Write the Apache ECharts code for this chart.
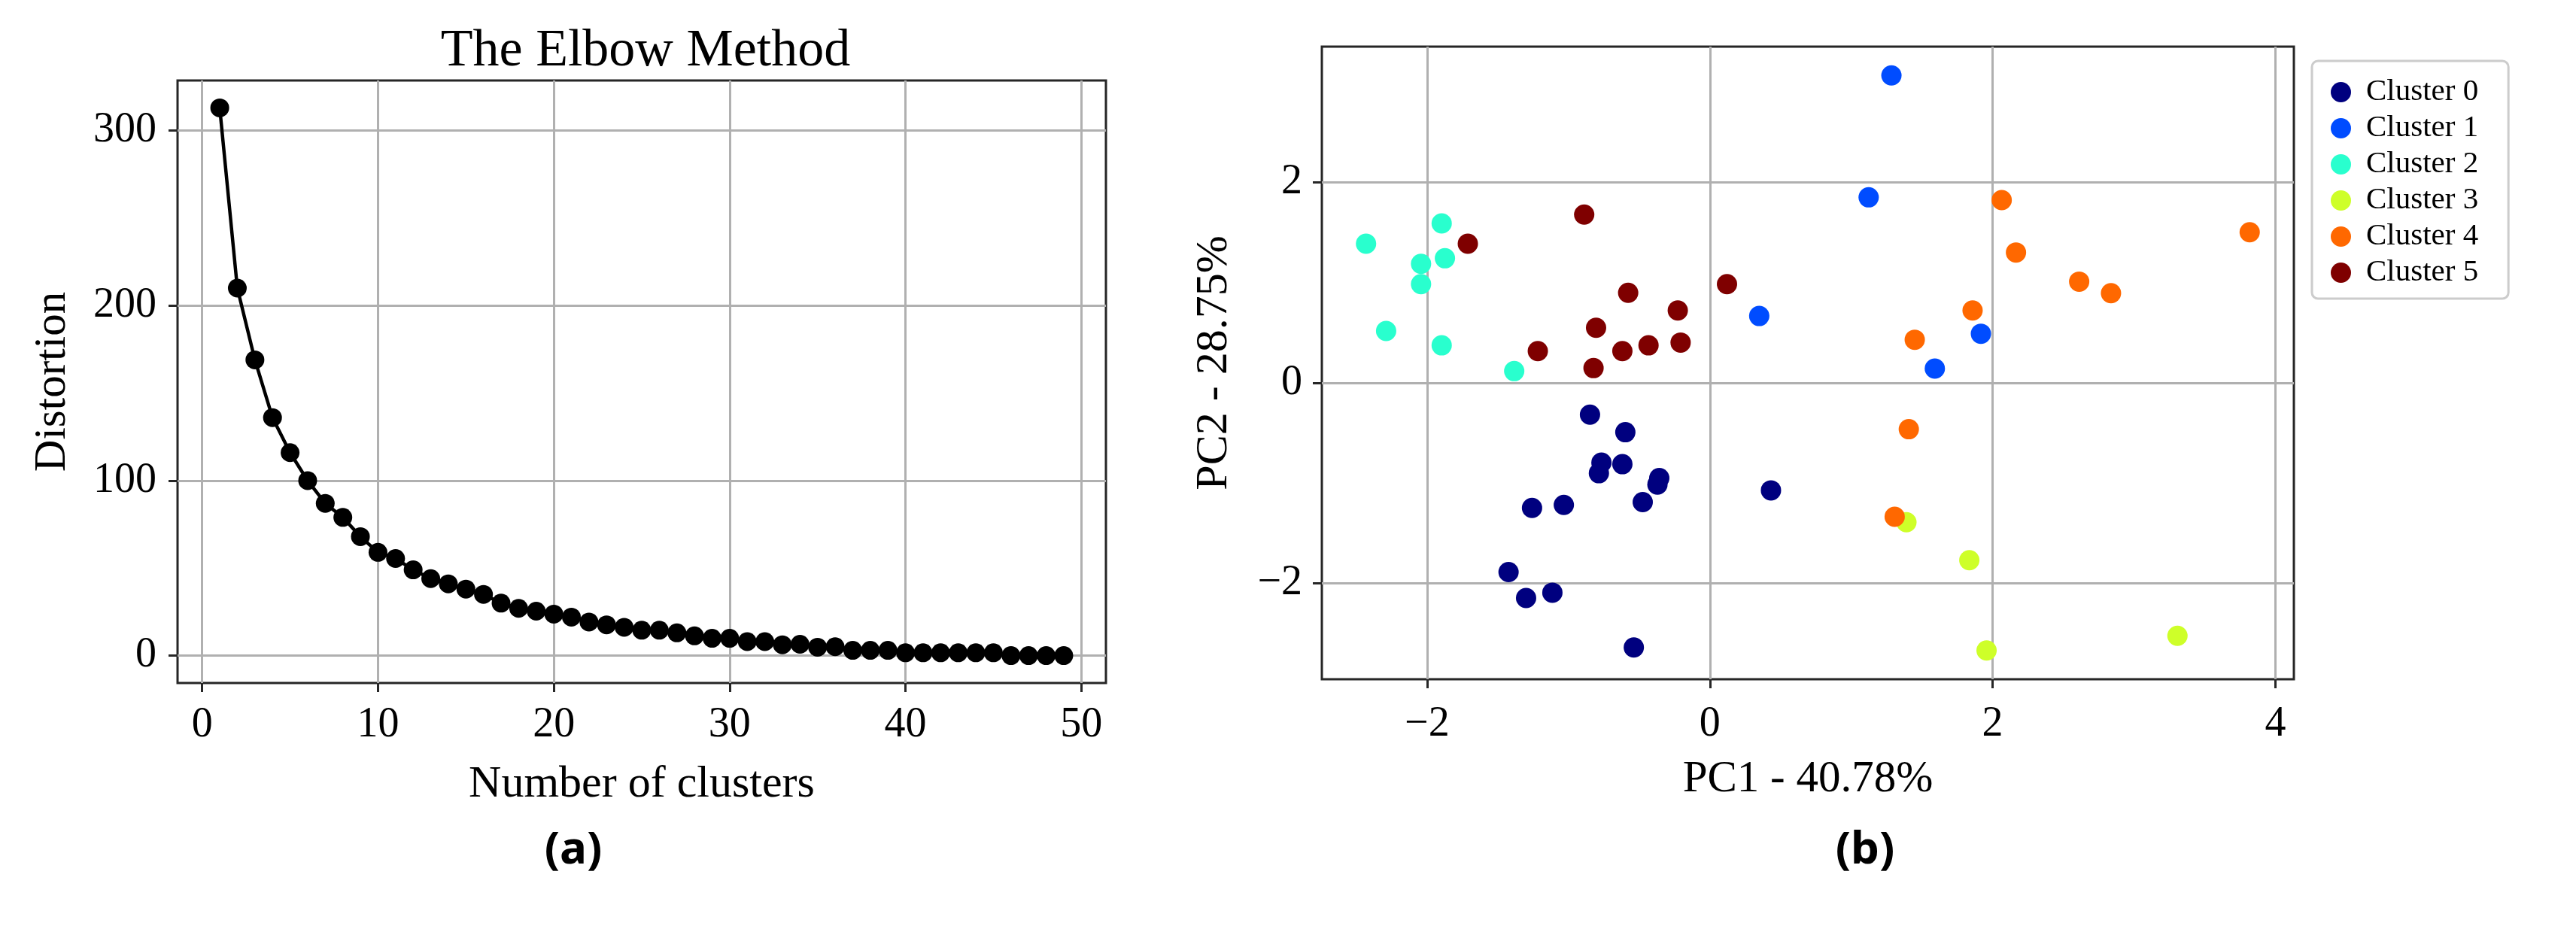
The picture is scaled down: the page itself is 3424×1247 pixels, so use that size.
<!DOCTYPE html>
<html>
<head>
<meta charset="utf-8">
<script src="https://cdn.jsdelivr.net/npm/echarts@6/dist/echarts.min.js"></script>
<style>
html,body{margin:0;padding:0;background:#fff;}
#c{width:3424px;height:1247px;}
</style>
</head>
<body>
<div id="c"></div>
<script>
// ---- Panel (a): elbow curve ----
const elbowK = [1,2,3,4,5,6,7,8,9,10,11,12,13,14,15,16,17,18,19,20,21,22,23,24,25,26,27,28,29,30,31,32,33,34,35,36,37,38,39,40,41,42,43,44,45,46,47,48,49];
const elbowDistortion = [313,210,169,136,116,100,87,79,68,59,55.5,49,44,41,38,35,30,27,25.4,23.7,22,19.2,17.6,16.2,14.5,14.5,13,11.3,9.9,9.9,8,8,6.2,6.5,4.8,5.1,3,3,3,1.6,1.6,1.6,1.6,1.6,1.6,0,0,0,0];
const elbowXTicks = [0,10,20,30,40,50];
const elbowYTicks = [0,100,200,300];

// ---- Panel (b): PCA scatter by cluster ----
const clusterNames = ['Cluster 0','Cluster 1','Cluster 2','Cluster 3','Cluster 4','Cluster 5'];
const clusterColors = ['#00007f','#004cff','#29ffce','#ceff29','#ff6800','#7f0000'];
const cluster0 = [[-0.848,-0.316],[-0.598,-0.492],[-0.767,-0.795],[-0.619,-0.811],[-0.785,-0.901],[-0.358,-0.949],[-0.371,-1.014],[-0.475,-1.189],[0.432,-1.072],[-1.258,-1.247],[-1.033,-1.217],[-1.424,-1.887],[-1.300,-2.146],[-1.114,-2.093],[-0.538,-2.640]];
const cluster1 = [[1.284,3.069],[1.123,1.852],[0.349,0.668],[1.917,0.491],[1.591,0.143]];
const cluster2 = [[-2.432,1.389],[-1.897,1.592],[-2.043,1.189],[-1.874,1.244],[-2.043,0.986],[-2.290,0.518],[-1.897,0.375],[-1.384,0.118]];
const cluster3 = [[1.390,-1.390],[1.835,-1.769],[1.957,-2.670],[3.307,-2.524]];
const cluster4 = [[2.064,1.825],[3.818,1.504],[2.165,1.302],[2.612,1.011],[2.837,0.896],[1.858,0.723],[1.449,0.431],[1.407,-0.462],[1.307,-1.335]];
const cluster5 = [[-0.889,1.680],[-1.712,1.389],[-0.578,0.899],[0.121,0.986],[-0.227,0.723],[-0.805,0.551],[-1.217,0.318],[-0.619,0.318],[-0.434,0.375],[-0.207,0.403],[-0.823,0.148]];
const clusters = [cluster0,cluster1,cluster2,cluster3,cluster4,cluster5];
const pcaXTicks = [-2,0,2,4];
const pcaYTicks = [-2,0,2];

const SERIF = '"Liberation Serif","Times New Roman",serif';
const fmt = v => (v < 0 ? '\u2212' + Math.abs(v) : String(v));

function padRange(vals){
  const mn = Math.min(...vals), mx = Math.max(...vals), d = (mx - mn) * 0.05;
  return [mn - d, mx + d];
}
const ex = padRange(elbowK), ey = padRange(elbowDistortion);
const allPts = clusters.flat();
const px = padRange(allPts.map(p=>p[0])), py = padRange(allPts.map(p=>p[1]));

function valAxis(gridIndex, range, ticks, margin, opts){
  return Object.assign({
    type:'value', gridIndex, min:range[0], max:range[1],
    axisLine:{show:false, onZero:false},
    axisTick:{show:true, inside:false, length:12, lineStyle:{color:'#262626', width:3}, customValues:ticks},
    axisLabel:{customValues:ticks, formatter:fmt, fontFamily:SERIF, fontSize:56, color:'#000', margin:margin},
    splitLine:{show:true, lineStyle:{color:'#b0b0b0', width:3}},
  }, opts);
}

const chart = echarts.init(document.getElementById('c'), null, {renderer:'canvas'});
const option = {
  backgroundColor:'#fff',
  animation:false,
  title:{
    text:'The Elbow Method', left:853, top:29, textAlign:'center',
    textStyle:{fontFamily:SERIF, fontSize:70, fontWeight:'normal', color:'#000'}
  },
  grid:[
    {left:236, top:107, width:1234, height:801, show:true, borderColor:'#262626', borderWidth:3, backgroundColor:'transparent'},
    {left:1757, top:62, width:1292, height:841, show:true, borderColor:'#262626', borderWidth:3, backgroundColor:'transparent'}
  ],
  xAxis:[
    valAxis(0, ex, elbowXTicks, 28, {name:'Number of clusters', nameLocation:'middle', nameGap:105,
      nameTextStyle:{fontFamily:SERIF, fontSize:60, color:'#000'}}),
    valAxis(1, px, pcaXTicks, 32, {name:'PC1 - 40.78%', nameLocation:'middle', nameGap:104,
      nameTextStyle:{fontFamily:SERIF, fontSize:59, color:'#000'}})
  ],
  yAxis:[
    valAxis(0, ey, elbowYTicks, 28, {name:'Distortion', nameLocation:'middle', nameGap:136,
      nameTextStyle:{fontFamily:SERIF, fontSize:59, color:'#000'}}),
    valAxis(1, py, pcaYTicks, 26, {name:'PC2 - 28.75%', nameLocation:'middle', nameGap:113,
      nameTextStyle:{fontFamily:SERIF, fontSize:60, color:'#000'}})
  ],
  legend:{
    data:clusterNames, orient:'vertical', left:3073, top:81,
    icon:'circle', itemWidth:27, itemHeight:27, itemGap:7,
    padding:[21,40,14,25],
    borderColor:'#cccccc', borderWidth:3, borderRadius:8, backgroundColor:'#fff',
    textStyle:{fontFamily:SERIF, fontSize:41, lineHeight:41, color:'#000', padding:[0,0,0,15]}
  },
  series:[
    {type:'line', xAxisIndex:0, yAxisIndex:0, data:elbowK.map((k,i)=>[k, elbowDistortion[i]]),
     symbol:'circle', symbolSize:25, itemStyle:{color:'#000'}, lineStyle:{color:'#000', width:4.5}, z:3}
  ].concat(clusters.map((pts,i)=>({
     type:'scatter', name:clusterNames[i], xAxisIndex:1, yAxisIndex:1, data:pts,
     symbol:'circle', symbolSize:27, itemStyle:{color:clusterColors[i], opacity:1}, z:3+i
  }))),
  graphic:[
    {type:'text', x:762, y:1131, style:{text:'(a)', fontFamily:'"Noto Sans",sans-serif', fontWeight:'bold', fontSize:60, fill:'#000', align:'center', verticalAlign:'middle'}},
    {type:'text', x:2479, y:1131, style:{text:'(b)', fontFamily:'"Noto Sans",sans-serif', fontWeight:'bold', fontSize:60, fill:'#000', align:'center', verticalAlign:'middle'}}
  ]
};
chart.setOption(option);
</script>
</body>
</html>
